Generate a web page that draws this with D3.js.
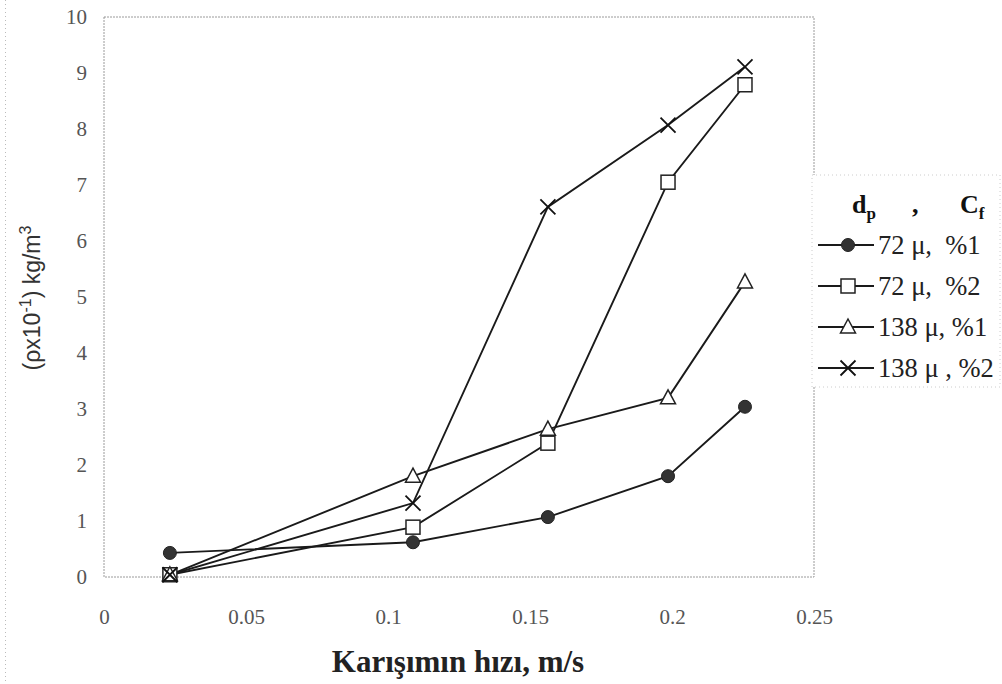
<!DOCTYPE html>
<html>
<head>
<meta charset="utf-8">
<script src="https://cdn.jsdelivr.net/npm/d3@7"></script>
<style>
  html, body { margin: 0; padding: 0; background: #fff; }
  svg { display: block; }
  .serif { font-family: "Liberation Serif", "Times New Roman", "DejaVu Serif", serif; }
  .sans { font-family: "Liberation Sans", Arial, "DejaVu Sans", sans-serif; }
</style>
</head>
<body>
<svg id="chart" width="1002" height="684"></svg>
<script>
// Mixture velocity (m/s) at each measuring point
const velocity = [0.0232, 0.1088, 0.1563, 0.1986, 0.2257];

// Density readings (ρ x 10^-1, kg/m^3) per particle size / concentration
const d72c1  = [0.43, 0.62, 1.07, 1.80, 3.04];
const d72c2  = [0.04, 0.89, 2.39, 7.05, 8.79];
const d138c1 = [0.04, 1.80, 2.64, 3.20, 5.27];
const d138c2 = [0.04, 1.32, 6.61, 8.07, 9.11];

const seriesNames = ["72 μ,  %1", "72 μ,  %2", "138 μ, %1", "138 μ , %2"];
const seriesMarkers = ["circle", "square", "triangle", "cross"];

const xTicks = [0, 0.05, 0.1, 0.15, 0.2, 0.25];
const yTicks = [0, 1, 2, 3, 4, 5, 6, 7, 8, 9, 10];

const series = [d72c1, d72c2, d138c1, d138c2].map((vals, i) => ({
  name: seriesNames[i],
  marker: seriesMarkers[i],
  points: vals.map((v, j) => ({ x: velocity[j], y: v }))
}));

const svg = d3.select("#chart");
const plot = { left: 104, right: 814, top: 17, bottom: 577 };

const x = d3.scaleLinear().domain([0, 0.25]).range([plot.left, plot.right]);
const y = d3.scaleLinear().domain([0, 10]).range([plot.bottom, plot.top]);

// faint page frame on the left
svg.append("line")
  .attr("x1", 5.5).attr("x2", 5.5).attr("y1", 0).attr("y2", 684)
  .attr("stroke", "#bbb").attr("stroke-dasharray", "1,3");

// plot area frame
svg.append("rect")
  .attr("x", plot.left).attr("y", plot.top)
  .attr("width", plot.right - plot.left).attr("height", plot.bottom - plot.top)
  .attr("fill", "none").attr("stroke", "#9a9a9a").attr("stroke-width", 1)
  .attr("stroke-dasharray", "2,1");

// axes (tick labels only, serif)
const xAxis = d3.axisBottom(x).tickValues(xTicks).tickSize(0).tickPadding(0)
  .tickFormat(d => d === 0 ? "0" : String(d));
const gx = svg.append("g").attr("transform", `translate(0,${plot.bottom})`).call(xAxis)
  .attr("font-family", null).attr("font-size", null);
gx.select(".domain").remove();
gx.selectAll("text")
  .attr("class", "serif")
  .attr("y", 47).attr("dy", 0)
  .style("font-size", "21px").attr("fill", "#555");

const yAxis = d3.axisLeft(y).tickValues(yTicks).tickSize(0).tickPadding(0);
const gy = svg.append("g").attr("transform", `translate(${plot.left},0)`).call(yAxis)
  .attr("font-family", null).attr("font-size", null);
gy.select(".domain").remove();
gy.selectAll("text")
  .attr("class", "serif")
  .attr("x", -17).attr("dy", "0.32em")
  .style("font-size", "21px").attr("fill", "#555");

// axis titles
svg.append("text")
  .attr("class", "serif")
  .attr("x", 458).attr("y", 672)
  .attr("text-anchor", "middle")
  .style("font-size", "31px").style("font-weight", "bold")
  .attr("fill", "#222")
  .text("Karışımın hızı, m/s");

const yTitle = svg.append("text")
  .attr("class", "sans")
  .attr("transform", "translate(40,298) rotate(-90)")
  .attr("text-anchor", "middle")
  .style("font-size", "23px").attr("fill", "#333");
yTitle.append("tspan").text("(ρx10");
yTitle.append("tspan").attr("dy", -9).style("font-size", "16px").text("-1");
yTitle.append("tspan").attr("dy", 9).text(") kg/m");
yTitle.append("tspan").attr("dy", -9).style("font-size", "16px").text("3");

// marker drawing
function drawMarker(g, type, cx, cy) {
  if (type === "circle") {
    g.append("circle").attr("cx", cx).attr("cy", cy).attr("r", 6.5)
      .attr("fill", "#333").attr("stroke", "#222").attr("stroke-width", 1);
  } else if (type === "square") {
    g.append("rect").attr("x", cx - 7).attr("y", cy - 7).attr("width", 14).attr("height", 14)
      .attr("fill", "#fff").attr("stroke", "#222").attr("stroke-width", 1.5);
  } else if (type === "triangle") {
    g.append("path")
      .attr("d", `M${cx},${cy - 8}L${cx + 7.5},${cy + 6}L${cx - 7.5},${cy + 6}Z`)
      .attr("fill", "#fff").attr("stroke", "#222").attr("stroke-width", 1.5);
  } else if (type === "cross") {
    g.append("path")
      .attr("d", `M${cx - 7.5},${cy - 7.5}L${cx + 7.5},${cy + 7.5}M${cx + 7.5},${cy - 7.5}L${cx - 7.5},${cy + 7.5}`)
      .attr("fill", "none").attr("stroke", "#111").attr("stroke-width", 1.8);
  }
}

const line = d3.line().x(d => x(d.x)).y(d => y(d.y));

// series lines first, then markers on top
const linesG = svg.append("g");
series.forEach(s => {
  linesG.append("path").datum(s.points)
    .attr("d", line)
    .attr("fill", "none").attr("stroke", "#1a1a1a").attr("stroke-width", 1.9);
});
const markG = svg.append("g");
series.forEach(s => {
  s.points.forEach(p => drawMarker(markG, s.marker, x(p.x), y(p.y)));
});

// legend
const legend = svg.append("g");
legend.append("rect")
  .attr("x", 812).attr("y", 175).attr("width", 188).attr("height", 212)
  .attr("fill", "#fff").attr("stroke", "#ccc").attr("stroke-width", 1)
  .attr("stroke-dasharray", "1,3");

const head = legend.append("text")
  .attr("class", "serif")
  .attr("y", 213)
  .style("font-size", "26px").style("font-weight", "bold").attr("fill", "#111");
head.append("tspan").attr("x", 852).text("d");
head.append("tspan").attr("dy", 6).style("font-size", "17px").text("p");
head.append("tspan").attr("x", 912).attr("dy", -6).text(",");
head.append("tspan").attr("x", 960).text("C");
head.append("tspan").attr("dy", 6).style("font-size", "17px").text("f");

series.forEach((s, i) => {
  const cy = 245 + i * 41;
  legend.append("line")
    .attr("x1", 818).attr("x2", 874).attr("y1", cy).attr("y2", cy)
    .attr("stroke", "#1a1a1a").attr("stroke-width", 1.9);
  drawMarker(legend, s.marker, 848, cy);
  legend.append("text")
    .attr("class", "serif")
    .attr("x", 878).attr("y", cy).attr("dy", "0.35em")
    .style("font-size", "26.5px").style("white-space", "pre").attr("fill", "#222")
    .text(s.name);
});
</script>
</body>
</html>
